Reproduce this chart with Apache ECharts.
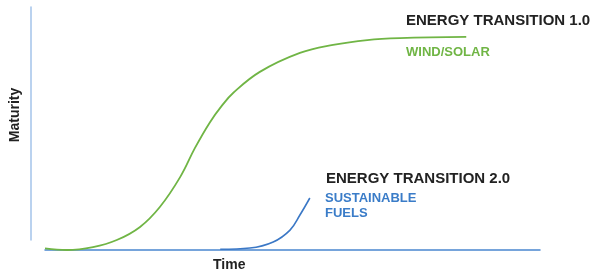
<!DOCTYPE html>
<html>
<head>
<meta charset="utf-8">
<title>Energy transition</title>
<script src="https://cdn.jsdelivr.net/npm/echarts@6/dist/echarts.min.js"></script>
<style>
  html, body { margin: 0; padding: 0; background: #fff; }
  #chart { width: 590px; height: 273px; }
</style>
</head>
<body>
<div id="chart"></div>
<script>
// time (0-100) and maturity (0-100)
var windSolarTime = [0, 4.4, 9.7, 14.5, 19.2, 23.2, 27.3, 30.3, 33.3, 35.7, 38.0, 43.4, 51.5, 58.2, 65.1, 71.7, 85.1];
var windSolarMaturity = [0.7, 0, 1.2, 4.1, 9.5, 17.7, 30.0, 42.0, 52.5, 59.3, 64.6, 73.3, 81.1, 84.4, 86.4, 87.2, 87.7];
var fuelsTime = [35.4, 41.4, 46.1, 49.5, 51.5, 53.5];
var fuelsMaturity = [0.3, 0.8, 3.3, 8.2, 14.4, 21.4];

var FONT = 'Liberation Sans, Arial, Helvetica, sans-serif';
var GREEN = '#70b545';
var BLUE = '#3b78c6';

function pairs(xs, ys) {
  return xs.map(function (x, i) { return [x, ys[i]]; });
}

var chart = echarts.init(document.getElementById('chart'));
var option = {
  animation: false,
  grid: [
    { left: 45, right: 50, top: 7, bottom: 23 },
    // only carries the vertical axis line, which stops short of the x axis
    { left: 31, width: 1, top: 7, height: 233 }
  ],
  xAxis: [
    {
      gridIndex: 0, type: 'value', min: 0, max: 100,
      axisLine: { show: true, lineStyle: { color: '#4a86d0', width: 1.5 } },
      axisTick: { show: false }, axisLabel: { show: false }, splitLine: { show: false }
    },
    { gridIndex: 1, type: 'value', show: false }
  ],
  yAxis: [
    {
      gridIndex: 0, type: 'value', min: 0, max: 100, show: false
    },
    {
      gridIndex: 1, type: 'value', min: 0, max: 100,
      axisLine: { show: true, lineStyle: { color: '#a3c3ea', width: 1.5 } },
      axisTick: { show: false }, axisLabel: { show: false }, splitLine: { show: false }
    }
  ],
  series: [
    {
      name: 'Wind/Solar', type: 'line', smooth: 0.4, symbol: 'none',
      xAxisIndex: 0, yAxisIndex: 0,
      lineStyle: { color: GREEN, width: 1.8 },
      data: pairs(windSolarTime, windSolarMaturity)
    },
    {
      name: 'Sustainable fuels', type: 'line', smooth: 0.4, symbol: 'none',
      xAxisIndex: 0, yAxisIndex: 0,
      lineStyle: { color: BLUE, width: 1.6 },
      data: pairs(fuelsTime, fuelsMaturity)
    }
  ],
  graphic: [
    { type: 'text', left: 406, top: 13, style: { text: 'ENERGY TRANSITION 1.0', font: 'bold 15px ' + FONT, fill: '#222' } },
    { type: 'text', left: 406, top: 46, style: { text: 'WIND/SOLAR', font: 'bold 13px ' + FONT, fill: GREEN } },
    { type: 'text', left: 326, top: 171, style: { text: 'ENERGY TRANSITION 2.0', font: 'bold 15px ' + FONT, fill: '#222' } },
    { type: 'text', left: 325, top: 191, style: { text: 'SUSTAINABLE\nFUELS', font: 'bold 13px ' + FONT, fill: '#3a7cc8', lineHeight: 15 } },
    { type: 'text', left: 213, top: 258, style: { text: 'Time', font: 'bold 14px ' + FONT, fill: '#222' } },
    {
      type: 'text', x: 15, y: 115, rotation: Math.PI / 2,
      style: { text: 'Maturity', font: 'bold 14px ' + FONT, fill: '#222', align: 'center', verticalAlign: 'middle' }
    }
  ]
};
chart.setOption(option);
</script>
</body>
</html>
